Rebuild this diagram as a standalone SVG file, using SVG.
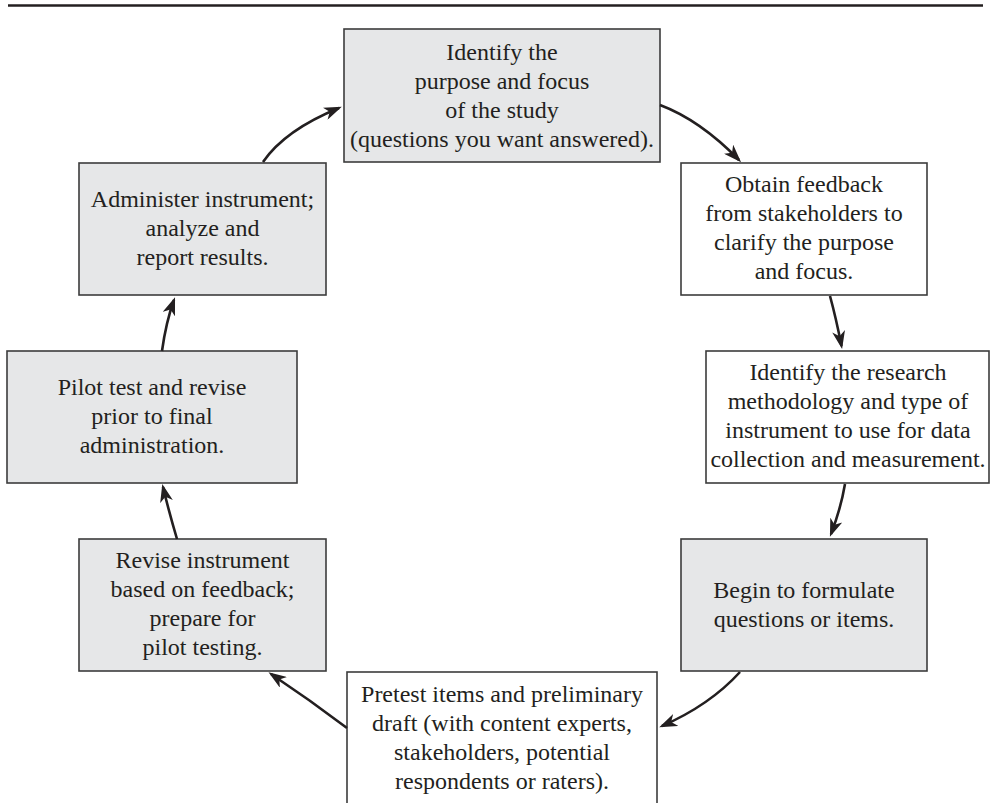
<svg xmlns="http://www.w3.org/2000/svg" width="991" height="803" viewBox="0 0 991 803">
<style>
.box{stroke:#3c3c3c;stroke-width:1.6}
.g{fill:#e6e7e8}
.w{fill:#ffffff}
.t text{font-size:24px;fill:#231f20;text-anchor:middle}
.conn path{fill:none;stroke:#231f20;stroke-width:2.6;marker-end:url(#ah)}
</style>
<defs>
<marker id="ah" markerUnits="userSpaceOnUse" viewBox="0 0 18 13" refX="15" refY="6.5" markerWidth="18" markerHeight="13" orient="auto">
<path d="M0,0 L18,6.5 L0,13 L5,6.5 Z" fill="#231f20"/>
</marker>
</defs>
<rect width="991" height="803" fill="#ffffff"/>
<line x1="8" y1="5.5" x2="983" y2="5.5" stroke="#231f20" stroke-width="2.5"/>

<g class="t" font-family="'Liberation Serif', 'Times New Roman', serif">
<g id="n1">
<rect class="box g" x="344" y="29" width="316" height="133"/>
<text x="502" y="60">Identify the</text>
<text x="502" y="89">purpose and focus</text>
<text x="502" y="118">of the study</text>
<text x="502" y="147">(questions you want answered).</text>
</g>
<g id="n2">
<rect class="box w" x="681" y="163" width="246" height="132"/>
<text x="804" y="192">Obtain feedback</text>
<text x="804" y="221">from stakeholders to</text>
<text x="804" y="250">clarify the purpose</text>
<text x="804" y="279">and focus.</text>
</g>
<g id="n3">
<rect class="box w" x="706" y="351" width="283" height="132"/>
<text x="848" y="380">Identify the research</text>
<text x="848" y="409">methodology and type of</text>
<text x="848" y="438">instrument to use for data</text>
<text x="848" y="467">collection and measurement.</text>
</g>
<g id="n4">
<rect class="box g" x="681" y="539" width="246" height="132"/>
<text x="804" y="598">Begin to formulate</text>
<text x="804" y="627">questions or items.</text>
</g>
<g id="n5">
<rect class="box w" x="347" y="672" width="310" height="150"/>
<text x="502" y="702">Pretest items and preliminary</text>
<text x="502" y="731">draft (with content experts,</text>
<text x="502" y="760">stakeholders, potential</text>
<text x="502" y="789">respondents or raters).</text>
</g>
<g id="n6">
<rect class="box g" x="79" y="539" width="247" height="132"/>
<text x="202.5" y="568">Revise instrument</text>
<text x="202.5" y="597">based on feedback;</text>
<text x="202.5" y="626">prepare for</text>
<text x="202.5" y="655">pilot testing.</text>
</g>
<g id="n7">
<rect class="box g" x="7" y="351" width="290" height="132"/>
<text x="152" y="395">Pilot test and revise</text>
<text x="152" y="424">prior to final</text>
<text x="152" y="453">administration.</text>
</g>
<g id="n8">
<rect class="box g" x="79" y="163" width="247" height="132"/>
<text x="202.5" y="207">Administer instrument;</text>
<text x="202.5" y="236">analyze and</text>
<text x="202.5" y="265">report results.</text>
</g>
</g>

<g id="connectors" class="conn">
<path d="M263,162 Q285,130 339,108"/>
<path d="M660,105 Q700,120 739,160"/>
<path d="M830,296 Q836,318 841.5,346"/>
<path d="M845,484 Q841,508 831,534"/>
<path d="M740,672 Q710,705 662,726"/>
<path d="M347,728 Q310,700 271,674"/>
<path d="M177,539 Q169,512 163,487"/>
<path d="M162,351 Q166,322 174,300"/>
</g>
</svg>
